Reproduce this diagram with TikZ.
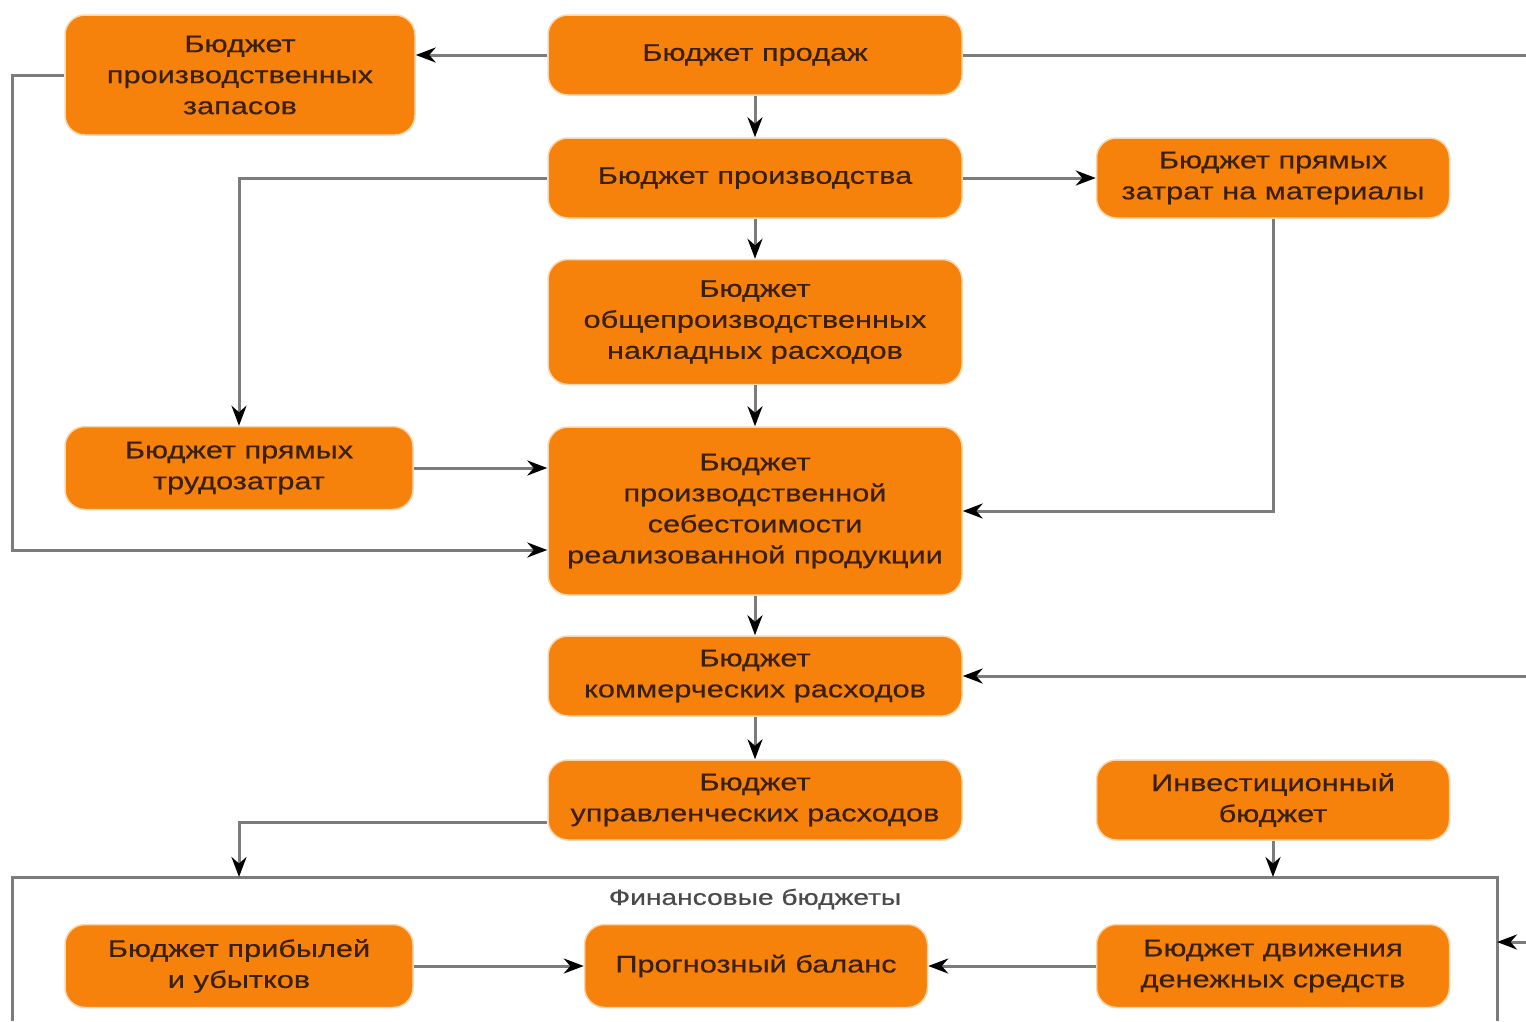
\documentclass[tikz,border=0pt]{standalone}
\usepackage{fontspec}
\setmainfont[FakeStretch=1.28,FakeBold=0.5]{Liberation Sans}
\usetikzlibrary{arrows.meta,calc}
\definecolor{boxfill}{HTML}{F6820C}
\definecolor{boxtext}{HTML}{3A2008}
\definecolor{boxedge}{HTML}{F9D7AE}
\definecolor{linegray}{HTML}{7C7C7C}
\definecolor{labgray}{HTML}{4A4A4A}
\begin{document}
\begin{tikzpicture}[x=1pt,y=-1pt,
  box/.style={draw=boxedge, line width=1.5pt, fill=boxfill, rounded corners=20pt,
    text=boxtext, font=\fontsize{24}{31}\selectfont, align=center, inner sep=0pt},
  conn/.style={draw=linegray, line width=3pt, -{Stealth[length=20pt,width=15pt,color=black]}},
  plain/.style={draw=linegray, line width=3pt}]
\useasboundingbox (0,0) rectangle (1526,1021);
\fill[white] (0,0) rectangle (1526,1021);

% nodes
\node[box, minimum width=350pt, minimum height=120pt] (zap) at (240,75) {Бюджет\\производственных\\запасов};
\node[box, minimum width=414pt, minimum height=80pt] (prod) at (755,55) {Бюджет продаж};
\node[box, minimum width=414pt, minimum height=80pt] (proizv) at (755,178) {Бюджет производства};
\node[box, minimum width=353pt, minimum height=80pt] (mat) at (1273,178) {Бюджет прямых\\затрат на материалы};
\node[box, minimum width=414pt, minimum height=125pt] (obsh) at (755,322) {Бюджет\\общепроизводственных\\накладных расходов};
\node[box, minimum width=348pt, minimum height=83pt] (trud) at (239,468) {Бюджет прямых\\трудозатрат};
\node[box, minimum width=414pt, minimum height=168pt] (seb) at (755,511) {Бюджет\\производственной\\себестоимости\\реализованной продукции};
\node[box, minimum width=414pt, minimum height=80pt] (kom) at (755,676) {Бюджет\\коммерческих расходов};
\node[box, minimum width=414pt, minimum height=80pt] (upr) at (755,800) {Бюджет\\управленческих расходов};
\node[box, minimum width=353pt, minimum height=80pt] (inv) at (1273,800) {Инвестиционный\\бюджет};
\node[box, minimum width=348pt, minimum height=83pt] (pl) at (239,966) {Бюджет прибылей\\и убытков};
\node[box, minimum width=343pt, minimum height=83pt] (bal) at (756,966) {Прогнозный баланс};
\node[box, minimum width=353pt, minimum height=83pt] (dds) at (1273,966) {Бюджет движения\\денежных средств};

% frame of financial budgets
\coordinate (fBL) at (12,1021);
\coordinate (fTL) at (12,877);
\coordinate (fTR) at (1497,877);
\coordinate (fBR) at (1497,1021);
\draw[plain] (fBL) -- (fTL) -- (fTR) -- (fBR);
\node[text=labgray, font=\fontsize{22}{26}\selectfont] (finlab) at (755,899) {Финансовые бюджеты};

% outside coordinates
\coordinate (rtop) at (1526,55);
\coordinate (rkom) at (1526,676);
\coordinate (rfin) at (1526,942);
\coordinate (lft) at (12,550);

% connectors
\draw[conn] (prod.west) -- (prod.west -| zap.east);
\draw[plain] (prod.east) -- (rtop);
\draw[conn] (prod.south) -- (proizv.north);
\draw[conn] (proizv.east) -- (mat.west);
\draw[conn] (proizv.west) -| (trud.north);
\draw[conn] (proizv.south) -- (obsh.north);
\draw[conn] (obsh.south) -- (seb.north);
\draw[conn] (trud.east) -- (trud.east -| seb.west);
\draw[conn] (zap.west) -| (lft) -- (lft -| seb.west);
\draw[conn] (mat.south) |- (seb.east);
\draw[conn] (seb.south) -- (kom.north);
\draw[conn] (rkom) -- (kom.east);
\draw[conn] (kom.south) -- (upr.north);
\draw[conn] ($(upr.west)+(0,22)$) -| (trud.south |- fTL);
\draw[conn] (inv.south) -- (inv.south |- fTL);
\draw[conn] (pl.east) -- (bal.west);
\draw[conn] (dds.west) -- (bal.east);
\draw[conn] (rfin) -- (rfin -| fTR);
\end{tikzpicture}
\end{document}
